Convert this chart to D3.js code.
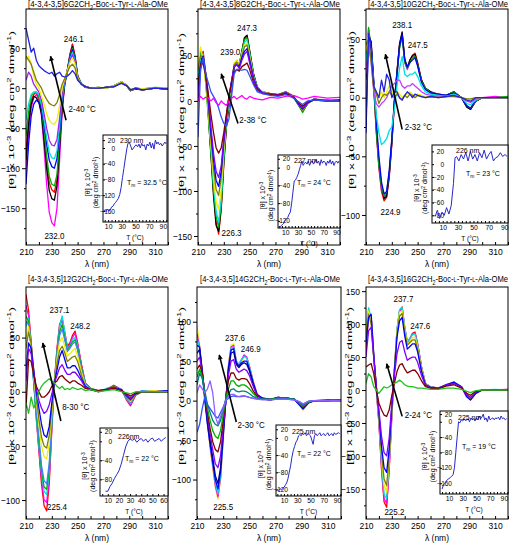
<!DOCTYPE html>
<html><head><meta charset="utf-8">
<script src="https://cdn.jsdelivr.net/npm/d3@7/dist/d3.min.js"></script>
<style>body{margin:0;background:#fff}svg{display:block}</style>
</head><body><svg id="c" width="512" height="544"></svg>
<script>
// ---------- DATA ----------
const wl = [210,212,214,216,218,220,222,224,226,228,230,232,234,236,238,240,242,244,246,248,250,253,256,260,266,272,278,284,288,291,295,300,310,320];

const titleNums = ["6","8","10","12","14","16"];
const rangeLabels = ["2-40","2-38","2-32","8-30","2-30","2-24"];
const insetWl = ["230 nm","227 nm","226 nm","226nm","225 nm","225 nm"];
const tmValues = ["32.5","24","23","22","22","19"];
const peakLabels = [["246.1","232.0"],["247.3","239.0","226.3"],["238.1","247.5","224.9"],["237.1","248.2","225.4"],["237.6","246.9","225.5"],["237.7","247.6","225.2"]];

const p1Colors = ["#ff00ff","#ff0000","#000000","#00b000","#0000ff","#00e0e0","#a020f0","#f0f000","#808000","#2020e0"];
const p1Curves = [
[-100,-55,-25,-12,-8,-15,-35,-75,-120,-155,-168,-172,-150,-90,-30,5,22,42,55,40,15,5,2,0,0,1,3,8,3,-3,0,-2,0,-1],
[-80,-40,-15,-8,-5,-12,-28,-58,-92,-118,-127,-130,-115,-70,-22,6,22,42,55,40,16,5,2,0,1,0,3,8,4,-2,0,-1,0,0],
[-90,-45,-20,-10,-12,-18,-32,-65,-100,-128,-138,-140,-122,-75,-25,5,20,40,52,38,15,5,1,0,0,1,2,7,3,-3,-1,-2,0,-1],
[-60,-30,-10,-5,-5,-10,-25,-52,-85,-110,-120,-122,-108,-65,-20,7,22,40,50,38,15,6,2,0,1,0,3,8,3,-2,0,-1,1,0],
[-120,-70,-35,-20,-15,-18,-25,-45,-70,-90,-98,-100,-88,-55,-15,8,22,38,48,36,14,5,2,0,0,1,2,7,3,-3,0,-2,0,-1],
[-40,-20,-8,-5,-5,-8,-20,-40,-62,-80,-87,-88,-78,-48,-12,8,20,36,45,34,14,5,2,0,1,0,3,8,3,-2,0,-1,0,0],
[10,20,15,5,0,-5,-15,-32,-50,-65,-71,-72,-64,-38,-8,10,20,34,42,32,13,5,2,0,0,1,2,7,3,-3,0,-2,0,-1],
[35,40,30,15,5,0,-10,-20,-32,-40,-44,-45,-40,-22,0,12,22,32,38,30,13,5,2,0,1,0,3,8,3,-2,0,-1,0,0],
[40,35,30,20,10,5,0,-8,-14,-19,-21,-22,-18,-8,5,12,20,27,30,25,12,5,2,0,0,1,2,7,3,-3,0,-2,0,-1],
[75,60,45,50,35,28,25,22,20,18,20,15,18,20,15,14,15,18,22,18,10,5,2,0,0,1,2,6,3,-2,0,-2,0,-1]];

const p2Colors = ["#ff0000","#000000","#00b000","#00e0e0","#f0f000","#808000","#0000ff","#8000ff","#800000","#3050ff","#ff00ff"];
const p2Curves = [
[20,50,55,30,-10,-55,-100,-135,-148,-120,-70,-30,-5,15,40,45,40,55,70,72,55,30,15,10,8,7,10,5,-5,-12,-3,2,0,1],
[15,45,50,25,-15,-60,-105,-138,-145,-118,-68,-28,-3,15,38,44,40,55,70,73,56,30,15,10,8,6,9,4,-5,-11,-3,2,0,0],
[30,55,50,20,-18,-58,-98,-128,-140,-115,-65,-25,0,18,38,42,40,55,68,70,54,28,14,10,8,7,10,5,-4,-13,-2,1,1,0],
[25,48,52,28,-10,-50,-92,-122,-135,-108,-60,-22,0,18,40,44,40,52,65,68,52,28,15,10,7,6,9,4,-5,-10,-3,2,0,1],
[40,60,45,20,-12,-48,-85,-112,-120,-98,-55,-20,2,20,42,45,40,52,62,64,50,26,14,10,8,7,9,4,-4,-10,-2,1,0,0],
[35,50,48,25,-8,-42,-75,-98,-105,-85,-48,-18,3,20,40,43,38,50,60,62,48,26,14,9,8,7,10,5,-4,-10,-3,2,1,0],
[10,40,50,30,0,-35,-65,-88,-95,-78,-45,-18,5,22,38,40,38,48,55,58,45,25,14,9,7,6,9,4,-4,-9,-2,1,0,1],
[0,35,45,30,5,-28,-58,-78,-85,-72,-42,-18,5,22,38,40,36,45,52,55,42,24,13,9,8,7,9,5,-3,-8,-2,2,0,0],
[20,40,42,28,8,-15,-35,-52,-58,-52,-35,-15,5,20,32,35,33,38,40,42,35,20,12,8,7,6,8,4,-2,-6,-1,1,0,0],
[-40,35,48,30,20,10,5,0,-8,-18,-25,-28,-20,5,30,35,35,34,35,34,28,18,10,8,6,5,7,3,-1,-4,0,1,0,0],
[0,5,2,4,3,0,3,-2,-5,0,-3,-5,0,3,5,2,4,6,3,2,5,3,2,1,4,3,5,6,4,2,3,5,3,4]];

const p3Colors = ["#ff0000","#ff00ff","#000000","#00b000","#0000ff","#00e0e0","#c040ff","#f0f000","#808000","#2020e0"];
const p3Curves = [
[20,55,45,10,-30,-60,-80,-88,-85,-68,-40,-5,22,45,55,32,25,32,36,38,30,15,8,5,3,2,5,0,-8,-10,-3,0,0,0],
[25,58,40,8,-28,-58,-78,-85,-82,-66,-38,-5,20,44,53,30,24,30,34,36,28,14,7,5,3,2,4,0,-7,-9,-3,0,1,0],
[15,52,48,12,-25,-55,-75,-86,-84,-66,-38,-3,22,46,56,33,26,32,36,37,29,15,8,5,2,2,5,0,-8,-10,-3,0,0,0],
[30,60,42,10,-28,-58,-76,-84,-80,-64,-36,-4,20,42,52,30,25,30,34,35,28,14,8,4,3,2,5,0,-7,-9,-3,0,0,1],
[-30,55,45,15,-20,-50,-72,-82,-80,-62,-35,-2,20,44,54,32,26,30,32,34,27,13,7,4,3,2,4,0,-7,-9,-2,0,0,0],
[30,50,40,10,-15,-30,-40,-38,-35,-28,-25,-10,10,25,35,20,18,20,20,22,18,10,5,3,2,1,3,0,-5,-6,-2,0,0,0],
[20,45,30,5,-5,-8,-5,-3,0,5,10,12,15,15,10,8,10,10,12,10,8,5,3,2,1,1,2,0,-3,-4,-1,0,0,0],
[40,55,35,10,5,0,5,0,5,10,5,2,5,3,0,2,3,5,3,2,3,2,1,1,0,1,2,0,-1,-2,0,0,0,0],
[45,50,30,8,3,-5,0,3,2,5,2,0,3,0,-2,2,0,3,2,0,2,1,0,1,0,1,1,0,-1,-1,0,0,0,0],
[-20,55,40,10,5,0,15,5,20,15,0,5,5,0,-2,2,5,3,0,3,2,1,0,1,0,1,2,0,-2,-3,0,0,0,0]];

const p4Colors = ["#ff0000","#ff00ff","#00e0e0","#00b000","#4080ff","#f0f000","#808000","#0000ff","#8000ff","#800000","#20c020"];
const p4Curves = [
[90,75,45,10,-25,-55,-85,-105,-110,-85,-35,10,40,62,68,55,42,45,52,56,45,25,8,3,0,2,6,2,-8,-13,-3,0,0,1],
[80,70,45,12,-22,-52,-80,-100,-102,-80,-33,8,38,60,66,54,40,44,50,54,44,24,8,3,1,2,5,2,-7,-12,-3,0,1,0],
[60,68,40,8,-25,-50,-75,-92,-95,-74,-30,8,36,60,70,55,40,42,48,50,42,22,8,2,0,3,5,2,-7,-11,-2,1,0,1],
[70,65,42,10,-20,-45,-72,-88,-90,-70,-28,8,35,55,62,50,38,42,46,48,40,22,7,3,1,2,5,1,-6,-10,-3,0,0,0],
[65,62,40,8,-18,-42,-68,-82,-85,-66,-26,7,33,52,58,48,37,40,44,46,38,20,7,2,0,2,5,2,-6,-10,-2,1,0,1],
[50,60,42,15,-10,-30,-50,-60,-62,-48,-20,8,30,46,50,42,33,35,38,40,33,18,6,2,1,2,4,2,-5,-9,-2,0,1,0],
[40,55,45,20,-5,-25,-42,-50,-52,-40,-15,8,26,38,42,36,28,30,32,33,28,15,5,2,0,2,5,1,-5,-8,-2,0,0,0],
[20,45,40,20,0,-15,-30,-40,-42,-32,-10,8,20,32,38,30,22,22,24,24,20,12,5,2,1,2,4,2,-4,-7,-2,0,0,1],
[10,40,35,18,3,-8,-15,-20,-18,-12,-2,8,15,22,25,20,16,16,18,18,15,10,4,2,0,2,4,1,-3,-6,-1,0,0,0],
[-15,30,28,15,5,0,-5,-5,-3,0,5,8,10,14,15,12,10,8,10,10,8,6,3,2,1,2,3,1,-2,-4,-1,0,0,0],
[-10,-20,-5,-15,-10,0,5,8,10,12,10,8,5,3,5,2,3,2,4,3,2,3,1,2,0,1,2,0,-1,-2,0,0,0,0]];

const p5Colors = ["#f0f000","#ff00ff","#00e0e0","#0000ff","#000090","#8000ff","#800000","#00b000","#008080","#3050ff","#9060ff"];
const p5Curves = [
[95,70,40,5,-30,-60,-85,-110,-125,-100,-50,0,45,70,72,50,45,50,55,55,45,25,8,3,2,4,3,2,-5,-12,-3,0,0,0],
[85,68,38,5,-28,-58,-82,-108,-122,-98,-48,0,44,68,70,50,46,52,58,55,44,24,8,3,2,4,3,2,-5,-11,-3,0,0,1],
[80,65,35,3,-28,-55,-80,-104,-118,-95,-46,0,42,66,68,50,46,52,56,54,43,23,7,3,1,4,3,2,-5,-11,-3,0,1,0],
[70,68,35,0,-30,-55,-78,-100,-112,-90,-44,0,40,64,66,48,44,48,50,50,40,22,7,3,2,3,3,2,-5,-10,-3,0,0,0],
[60,65,38,5,-25,-50,-72,-95,-105,-85,-40,0,38,60,62,46,42,46,48,46,38,20,7,3,1,4,3,2,-4,-10,-2,0,0,1],
[50,55,35,8,-20,-42,-62,-80,-85,-70,-35,0,32,50,52,40,36,38,40,38,32,18,6,2,2,3,3,2,-4,-9,-2,0,0,0],
[40,45,35,10,-15,-35,-52,-62,-65,-52,-25,2,25,35,35,28,26,28,28,27,22,12,5,2,1,4,3,2,-3,-8,-2,0,1,0],
[30,40,30,10,-10,-25,-38,-45,-48,-38,-18,3,15,25,25,20,18,20,20,18,15,9,4,2,2,3,3,2,-3,-7,-2,0,0,0],
[20,35,28,12,-5,-15,-25,-30,-32,-25,-12,2,8,14,15,12,11,12,12,11,9,5,3,2,1,3,3,2,-2,-6,-1,0,0,1],
[-40,-30,-10,5,-5,-10,-15,-20,-22,-15,-8,0,3,5,6,5,5,5,6,5,4,3,2,2,1,2,2,1,-2,-5,-1,0,0,0],
[10,20,15,10,15,25,10,-20,-30,-20,-10,0,5,8,8,6,5,6,6,5,4,3,2,1,1,2,2,1,-1,-4,-1,0,0,0]];

const p6Colors = ["#ff0000","#ff00ff","#00e0e0","#f0f000","#808000","#0000ff","#8000ff","#800000","#20c020"];
const p6Curves = [
[60,115,110,50,0,-50,-120,-170,-178,-120,-40,30,90,120,126,95,72,78,86,88,70,35,10,5,3,8,12,5,-10,-15,-5,0,0,0],
[70,118,112,52,0,-48,-115,-165,-172,-116,-38,30,90,120,124,94,72,78,85,86,70,35,10,5,3,8,11,5,-10,-14,-5,0,0,1],
[90,125,110,50,2,-45,-110,-158,-165,-110,-35,32,92,122,125,95,74,78,84,85,68,34,10,5,2,7,12,5,-9,-14,-4,0,1,0],
[85,120,105,50,5,-40,-100,-145,-155,-105,-32,30,88,118,120,92,70,74,80,80,65,32,9,4,3,8,11,4,-9,-13,-4,0,0,0],
[80,115,100,48,5,-38,-95,-135,-145,-100,-30,28,85,112,116,88,68,72,76,76,62,30,9,4,2,7,11,5,-8,-13,-4,0,0,1],
[70,110,115,55,5,-35,-85,-118,-125,-88,-25,28,80,105,110,82,62,66,70,70,58,28,8,4,3,8,12,5,-10,-15,-5,0,0,0],
[50,90,95,50,5,-30,-70,-95,-100,-72,-20,22,55,72,75,58,45,48,50,50,42,22,7,3,2,7,10,4,-7,-11,-3,0,0,0],
[35,38,40,25,0,-20,-30,-38,-40,-30,-8,10,28,38,40,32,26,28,30,30,25,14,5,3,2,6,8,3,-5,-8,-2,0,0,0],
[10,25,20,5,0,-5,0,5,3,5,8,10,12,15,12,8,6,5,5,4,3,3,2,1,1,3,3,1,-2,-4,-1,0,0,0]];

// inset melting curves (T in °C, [θ] x10^-3)
const ins1T = [3,5,7,9,11,13,15,17,19,21,23,25,27,29,31,33,35,37,39,41,43,45,47,49,51,53,55,57,59,61,63,65,67,69,71,73,75,77,79,81,83,85,87,89,91,93,95];
const ins1V = [-160,-158,-162,-155,-160,-158,-150,-148,-142,-138,-133,-128,-118,-100,-75,-52,-28,-5,12,14,5,-5,0,5,8,3,10,0,12,5,8,-5,10,5,15,0,12,-3,20,10,15,8,12,5,10,15,10];
const ins2T = [0,2,4,6,8,10,12,14,16,18,20,22,24,26,28,30,32,34,36,38,40,42,44,46,48,50,52,54,56,58,60,62,64,66,68,70,72,74,76,78,80,82,84,86,88,90,92,94];
const ins2V = [-140,-135,-130,-128,-125,-118,-115,-112,-105,-100,-80,-55,-30,-28,-22,-15,-5,5,15,5,10,12,8,15,5,12,15,8,12,18,10,15,5,18,10,15,12,5,15,10,18,8,15,5,12,15,10,15];
const ins3T = [0,3,6,9,12,15,18,21,24,26,28,31,34,37,40,43,46,49,52,55,58,61,64,67,70,73,76,79,82,85,88,91,94];
const ins3V = [-82,-72,-85,-75,-80,-68,-78,-65,-30,10,12,5,15,8,18,5,20,8,15,5,18,10,22,8,15,20,5,10,12,18,12,15,12];
const ins4T = [8,10,12,14,16,18,20,22,24,26,28,30,32,34,36,38,40,42,44,46,48,50,52,54,56,58,60,62];
const ins4V = [-105,-105,-95,-88,-78,-70,-62,-48,-30,-12,0,5,2,5,-2,3,6,0,5,-2,4,7,0,3,6,0,5,8];
const ins5T = [0,2,4,6,8,10,12,14,16,18,20,22,24,26,28,30,32,34,36,38,40,42,44,46,48,50,52,54,56,58,60,62,64,66,68,70,72,74,76,78,80,82,84,86,88,90,92,94];
const ins5V = [-120,-122,-118,-120,-118,-115,-110,-105,-95,-80,-65,-45,-30,-20,-10,-5,5,8,5,10,8,12,5,10,8,5,-5,-15,5,10,5,8,12,5,8,10,5,8,12,5,8,10,5,12,8,10,12,10];
const ins6T = [0,2,4,6,8,10,12,14,16,18,20,22,24,26,28,30,32,34,36,38,40,42,44,46,48,50,52,54,56,58,60,62,64,66,68,70,72,74,76,78,80,82,84,86,88,90,92,94];
const ins6V = [-175,-165,-160,-155,-150,-148,-145,-142,-138,-120,-80,-40,0,-3,5,2,8,3,5,8,0,10,5,8,2,10,5,15,8,12,20,5,10,0,15,5,8,10,5,10,8,12,5,15,8,10,5,8];

// ---------- LAYOUT ----------
const FONT = '"Liberation Sans", Arial, Helvetica, sans-serif';
const SY = 1.15;
const svg = d3.select('#c');
const defs = svg.append('defs');
defs.append('marker').attr('id','ah').attr('viewBox','0 0 10 10').attr('refX',9).attr('refY',5)
  .attr('markerWidth',7).attr('markerHeight',5).attr('orient','auto').attr('markerUnits','userSpaceOnUse')
  .append('path').attr('d','M0,0 L10,5 L0,10 Z').attr('fill','#000');

function rich(t, segs, fs){
  let shift = 0;
  segs.forEach(([s,k])=>{
    const ts = t.append('tspan').text(s);
    let target = 0, size = fs;
    if (k==='sub'){target = fs*0.3; size = fs*0.7;}
    else if (k==='sup'){target = -fs*0.38; size = fs*0.7;}
    else if (k==='sc'){size = fs*0.72;}
    ts.attr('font-size', size);
    if (target - shift !== 0) ts.attr('dy', target - shift);
    shift = target;
  });
}
function txt(g, x, y, content, o={}){
  const fs = o.fs||8, sy = o.sy||SY, rot = o.rot||0;
  const t = g.append('text')
    .attr('y', fs*0.35)
    .attr('text-anchor', o.anchor||'middle')
    .attr('font-size', fs).attr('font-family', FONT).attr('fill', o.fill||'#000');
  if (typeof content === 'string') t.text(content); else rich(t, content, fs);
  let k = 1;
  if (o.fit) { const w = t.node().getComputedTextLength(); if (w>0) k = o.fit / w; }
  if (rot) t.attr('transform', `translate(${x},${y}) rotate(${rot}) scale(${k},1)`);
  else t.attr('transform', `translate(${x},${y}) scale(${k},${sy})`);
  return t;
}
function styleAxis(ax, fs){
  ax.select('.domain').remove();
  ax.attr('font-family', FONT).attr('font-size', fs);
  ax.selectAll('line').attr('stroke','#000');
}

const yTitleSegs = [["[θ] x 10",""],["-3","sup"],[" (deg cm",""],["2","sup"],[" dmol",""],["-1","sup"],[")",""]];

const panels = [
 {x0:26,x1:168,y0:9,y1:245,yDom:[-196,99],yTicks:[-150,-100,-50,0,50],ytX:11,ytY:110,titleY:4,
  curves:p1Curves,colors:p1Colors,
  peaks:[[247,62],[232,-184]], arrow:[241,-40,229,40], range:[243,-26],
  ins:{x0:103,x1:167,y0:135,y1:222,xDom:[2.5,96],yDom:[-188,33],yTicks:[20,0,-40,-80,-120,-160],xTicks:[10,30,50,70,90],lab:[120,140],tm:[127,182],T:ins1T,V:ins1V}},
 {x0:198,x1:340,y0:9,y1:245,yDom:[-160,102],yTicks:[-150,-100,-50,0,50],ytX:181,ytY:112,titleY:4,
  curves:p2Curves,colors:p2Colors,
  peaks:[[248,81],[235,54],[236,-146]], arrow:[241,-25,228,30], range:[242,-21],
  ins:{x0:278,x1:340,y0:155,y1:228,xDom:[-1.3,95.4],yDom:[-136,28.5],yTicks:[20,0,-40,-80,-120],xTicks:[10,30,50,70,90],lab:[294,160],tm:[297,182],T:ins2T,V:ins2V}},
 {x0:366,x1:508,y0:9,y1:245,yDom:[-125.6,75.6],yTicks:[-100,-50,0,50],ytX:351,ytY:110,titleY:4,
  curves:p3Curves,colors:p3Colors,
  peaks:[[238,62],[250,45],[229,-97]], arrow:[238,-27,225,37], range:[240,-25],
  ins:{x0:432,x1:508,y0:145,y1:223,xDom:[-4,95],yDom:[-92,30],yTicks:[20,0,-20,-40,-60,-80],xTicks:[10,30,50,70,90],lab:[456,150],tm:[466,173],T:ins3T,V:ins3V}},
 {x0:26,x1:168,y0:287,y1:519,yDom:[-117.5,96.7],yTicks:[-100,-50,0,50],ytX:11,ytY:386,titleY:279,
  curves:p4Curves,colors:p4Colors,
  peaks:[[236,76],[252,61],[234,-106]], arrow:[237,-27,223,45], range:[238,-14],
  ins:{x0:100,x1:168,y0:428,y1:496,xDom:[3,64],yDom:[-115,28],yTicks:[20,0,-40,-80],xTicks:[10,20,30,40,50,60],lab:[118,436],tm:[125,458],T:ins4T,V:ins4V}},
 {x0:197,x1:341,y0:287,y1:519,yDom:[-150,144],yTicks:[-100,-50,0,50,100],ytX:181,ytY:386,titleY:279,
  curves:p5Curves,colors:p5Colors,
  peaks:[[239,80],[251,66],[230,-135]], arrow:[240,-27,227,58], range:[241,-31],
  ins:{x0:276,x1:341,y0:425,y1:496,xDom:[-2,96],yDom:[-135,30],yTicks:[20,0,-40,-80,-120],xTicks:[10,30,50,70,90],lab:[292,431],tm:[297,453],T:ins5T,V:ins5V}},
 {x0:366,x1:508,y0:287,y1:519,yDom:[-195.7,156.3],yTicks:[-150,-100,-50,0,50,100,150],ytX:349,ytY:386,titleY:279,
  curves:p6Curves,colors:p6Colors,
  peaks:[[239,138],[252,98],[232,-184]], arrow:[238,-40,226,40], range:[240,-37],
  ins:{x0:440,x1:508,y0:411,y1:494,xDom:[-3,96],yDom:[-188,28],yTicks:[20,0,-40,-80,-120,-160],xTicks:[10,30,50,70,90],lab:[458,417],tm:[462,446],T:ins6T,V:ins6V}}
];

panels.forEach((p,pi)=>{
  const g = svg.append('g');
  const x = d3.scaleLinear().domain([210,320]).range([p.x0,p.x1]);
  const y = d3.scaleLinear().domain(p.yDom).range([p.y1,p.y0]);
  const cid = 'cl'+pi;
  defs.append('clipPath').attr('id',cid).append('rect')
    .attr('x',p.x0).attr('y',p.y0).attr('width',p.x1-p.x0).attr('height',p.y1-p.y0);
  const line = d3.line().x(d=>x(d[0])).y(d=>y(d[1]));
  const cg = g.append('g').attr('clip-path',`url(#${cid})`);
  p.curves.forEach((c,i)=>{
    cg.append('path').attr('d', line(c.map((v,j)=>[wl[j],v]).filter(d=>d[0]!==undefined)))
      .attr('fill','none').attr('stroke',p.colors[i]).attr('stroke-width',1.3).attr('stroke-linejoin','round');
  });
  g.append('rect').attr('x',p.x0).attr('y',p.y0).attr('width',p.x1-p.x0).attr('height',p.y1-p.y0)
    .attr('fill','none').attr('stroke','#000').attr('stroke-width',1);
  // x axis
  const xa = g.append('g').attr('transform',`translate(0,${p.y1})`)
    .call(d3.axisBottom(x).tickValues(d3.range(210,321,10)).tickSize(-3).tickPadding(3)
      .tickFormat(d=> (d%20===10 && d<320) ? d : ''));
  styleAxis(xa, 8.5);
  xa.selectAll('text').attr('transform',`scale(1,${SY})`);
  // y axis major + minor
  const ya = g.append('g').attr('transform',`translate(${p.x0},0)`)
    .call(d3.axisLeft(y).tickValues(p.yTicks).tickSize(4).tickPadding(2));
  styleAxis(ya, 8.5);
  ya.selectAll('text').attr('transform',`scale(1,${SY})`);
  const minors = d3.range(Math.ceil(p.yDom[0]/25)*25, p.yDom[1], 25).filter(v=>p.yTicks.indexOf(v)<0);
  const ym = g.append('g').attr('transform',`translate(${p.x0},0)`)
    .call(d3.axisLeft(y).tickValues(minors).tickSize(2).tickFormat(''));
  styleAxis(ym, 8);
  // titles
  txt(g, (p.x0+p.x1)/2 + 1, p.titleY, [["[4-3,4-3,5]"+titleNums[pi]+"G2CH",""],["2","sub"],["-Boc-",""],["L","sc"],["-Tyr-",""],["L","sc"],["-Ala-OMe",""]], {fs:8.6, fit:140});
  txt(g, (p.x0+p.x1)/2, p.y1+18.5, "λ (nm)", {fs:8.5});
  txt(g, p.ytX, p.ytY, yTitleSegs, {fs:7.6, rot:-90, fit:158});
  // annotations
  const pk = peakLabels[pi];
  p.peaks.forEach((q,k)=> txt(g, x(q[0]), y(q[1]), pk[k], {fs:8}));
  g.append('line').attr('x1',x(p.arrow[0])).attr('y1',y(p.arrow[1])).attr('x2',x(p.arrow[2])).attr('y2',y(p.arrow[3]))
    .attr('stroke','#000').attr('stroke-width',1.6).attr('marker-end','url(#ah)');
  txt(g, x(p.range[0]), y(p.range[1]), rangeLabels[pi]+" °C", {fs:8, anchor:'start'});

  // inset
  const s = p.ins;
  const ig = g.append('g');
  ig.append('rect').attr('x',s.x0).attr('y',s.y0).attr('width',s.x1-s.x0).attr('height',s.y1-s.y0)
    .attr('fill','#fff').attr('stroke','#000').attr('stroke-width',1);
  const ix = d3.scaleLinear().domain(s.xDom).range([s.x0,s.x1]);
  const iy = d3.scaleLinear().domain(s.yDom).range([s.y1,s.y0]);
  const icid = 'icl'+pi;
  defs.append('clipPath').attr('id',icid).append('rect')
    .attr('x',s.x0).attr('y',s.y0).attr('width',s.x1-s.x0).attr('height',s.y1-s.y0);
  const ixa = ig.append('g').attr('transform',`translate(0,${s.y1})`)
    .call(d3.axisBottom(ix).tickValues(d3.range(Math.ceil(s.xDom[0]/5)*5, s.xDom[1], 5)).tickSize(-2).tickPadding(1.5)
      .tickFormat(d=> s.xTicks.indexOf(d)>=0 ? d : ''));
  styleAxis(ixa, 6.8);
  ixa.selectAll('text').attr('transform',`scale(1,${SY})`);
  const iya = ig.append('g').attr('transform',`translate(${s.x0},0)`)
    .call(d3.axisLeft(iy).tickValues(s.yTicks).tickSize(-2).tickFormat(''));
  styleAxis(iya, 7);
  const iyl = ig.append('g').attr('transform',`translate(${s.x0+13},0)`)
    .call(d3.axisLeft(iy).tickValues(s.yTicks).tickSize(0).tickPadding(1));
  styleAxis(iyl, 6.5);
  const il = d3.line().x(d=>ix(d[0])).y(d=>iy(d[1]));
  ig.append('path').attr('clip-path',`url(#${icid})`)
    .attr('d', il(s.T.map((t,j)=>[t, s.V[j]]))).attr('fill','none').attr('stroke','#2828c8').attr('stroke-width',1);
  txt(ig, (s.x0+s.x1)/2, s.y1+15, "T (°C)", {fs:6.6});
  const ym2 = (s.y0+s.y1)/2 + 4;
  txt(ig, s.x0-15, ym2, [["[θ] x 10",""],["-3","sup"]], {fs:7, rot:-90});
  txt(ig, s.x0-7, ym2, [["(deg cm",""],["2","sup"],[" dmol",""],["-1","sup"],[")",""]], {fs:7, rot:-90});
  txt(ig, s.lab[0], s.lab[1], insetWl[pi], {fs:7, anchor:'start'});
  txt(ig, s.tm[0], s.tm[1], [["T",""],["m","sub"],[" = "+tmValues[pi]+" °C",""]], {fs:7, anchor:'start'});
});
</script></body></html>
